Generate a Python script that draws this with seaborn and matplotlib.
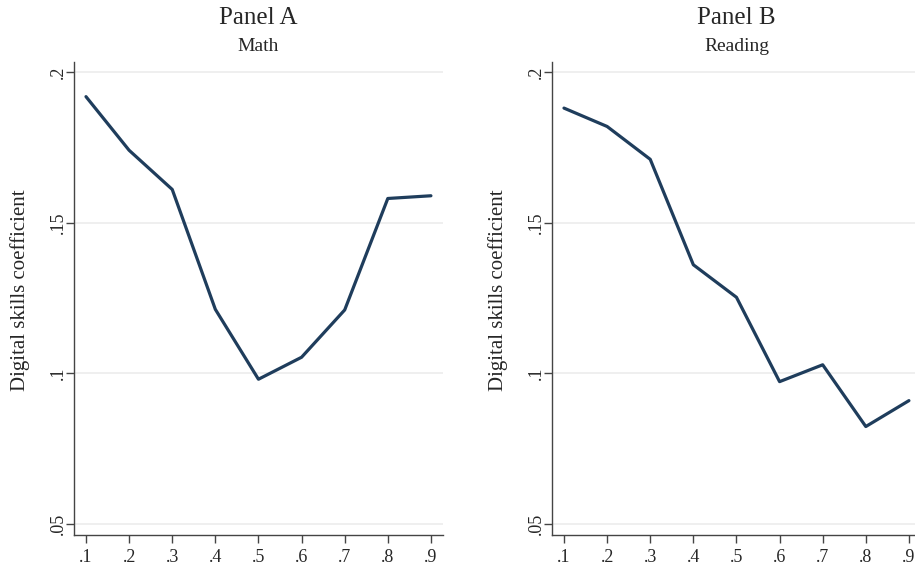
import matplotlib
matplotlib.use("Agg")
import matplotlib.pyplot as plt
import seaborn as sns
import pandas as pd

# Quantiles and coefficient estimates
quantiles   = [0.1, 0.2, 0.3, 0.4, 0.5, 0.6, 0.7, 0.8, 0.9]
math_coef   = [0.1918, 0.174, 0.161, 0.1212, 0.098, 0.1053, 0.121, 0.158, 0.1589]
read_coef   = [0.188, 0.1819, 0.171, 0.136, 0.1252, 0.0972, 0.1028, 0.0823, 0.0909]

x_ticks      = [0.1, 0.2, 0.3, 0.4, 0.5, 0.6, 0.7, 0.8, 0.9]
x_ticklabels = [".1", ".2", ".3", ".4", ".5", ".6", ".7", ".8", ".9"]
y_ticks      = [0.05, 0.1, 0.15, 0.2]
y_ticklabels = [".05", ".1", ".15", ".2"]

panels = [("Panel A", "Math", math_coef), ("Panel B", "Reading", read_coef)]

LINE_COLOR = "#1f3d5c"
AXIS_COLOR = "#444444"

sns.set_theme(style="white")
plt.rcParams["font.family"] = ["Liberation Serif", "DejaVu Serif"]

fig = plt.figure(figsize=(9.15, 5.67), dpi=100)
positions = [[74 / 915, 32 / 567, 369 / 915, 473 / 567],
             [552 / 915, 32 / 567, 369 / 915, 473 / 567]]

for pos, (panel, subject, coef) in zip(positions, panels):
    ax = fig.add_axes(pos)
    df = pd.DataFrame({"quantile": quantiles, "coef": coef})
    sns.lineplot(data=df, x="quantile", y="coef", ax=ax,
                 color=LINE_COLOR, linewidth=2.3)

    ax.set_xlim(0.0722, 0.928)
    ax.set_ylim(0.0463, 0.2033)
    ax.set_xticks(x_ticks)
    ax.set_xticklabels(x_ticklabels, fontsize=13)
    ax.set_yticks(y_ticks)
    ax.set_yticklabels(y_ticklabels, fontsize=13, rotation=90, va="center")
    ax.tick_params(axis="both", which="major", direction="out", length=6,
                   width=1, color=AXIS_COLOR, bottom=True, left=True, pad=4)
    ax.tick_params(axis="y", pad=-1)

    for s in ["top", "right"]:
        ax.spines[s].set_visible(False)
    for s in ["left", "bottom"]:
        ax.spines[s].set_color(AXIS_COLOR)
        ax.spines[s].set_linewidth(1)

    for yt in y_ticks:
        ax.axhline(yt, color="#ececec", linewidth=1.2, zorder=0)

    ax.set_xlabel("")
    ax.set_ylabel("Digital skills coefficient", fontsize=15)
    ax.yaxis.set_label_coords(-0.119, 0.518)
    ax.text(0.5, 1.093, panel, transform=ax.transAxes, ha="center",
            va="center", fontsize=18)
    ax.text(0.5, 1.032, subject, transform=ax.transAxes, ha="center",
            va="center", fontsize=14)

fig.savefig("out.png", dpi=100)
